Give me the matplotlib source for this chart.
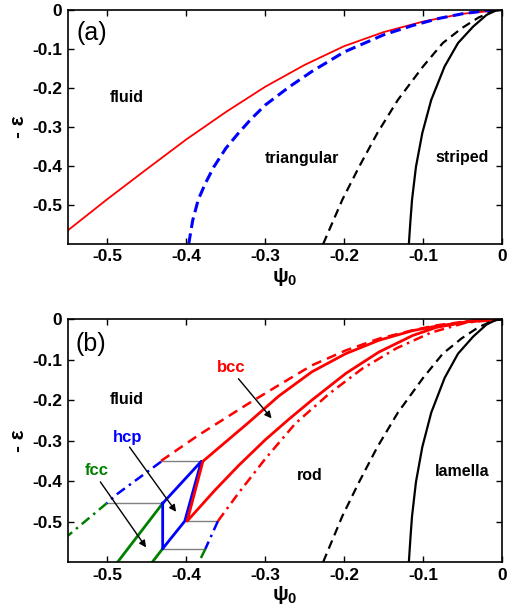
import numpy as np
import matplotlib
matplotlib.use("Agg")
import matplotlib.pyplot as plt

plt.rcParams['font.family'] = ['Liberation Sans', 'DejaVu Sans']
plt.rcParams['font.weight'] = 'bold'
plt.rcParams['axes.unicode_minus'] = False
plt.rcParams['mathtext.fontset'] = 'custom'
plt.rcParams['mathtext.rm'] = 'Liberation Sans:bold'
plt.rcParams['mathtext.it'] = 'Liberation Sans:bold'
plt.rcParams['mathtext.bf'] = 'Liberation Sans:bold'

# ---- panel (a) data ----
fluid_tri_x = [-0.55, -0.5, -0.45, -0.4, -0.35, -0.3, -0.25, -0.2, -0.15, -0.1, -0.05, 0]
fluid_tri_y = [-0.565, -0.485, -0.408, -0.332, -0.262, -0.197, -0.141, -0.093, -0.057, -0.030, -0.010, 0]

tri_x = [-0.397, -0.392, -0.385, -0.376, -0.365, -0.35, -0.334, -0.318, -0.3, -0.27,
         -0.241, -0.2, -0.15, -0.113, -0.08, -0.05, -0.02, 0]
tri_y = [-0.6, -0.54, -0.487, -0.445, -0.402, -0.355, -0.316, -0.28, -0.244, -0.198,
         -0.158, -0.108, -0.064, -0.040, -0.022, -0.010, -0.002, 0]

stripe_dash_x = [-0.2266, -0.2024, -0.181, -0.158, -0.132, -0.100, -0.075, -0.051, -0.030, -0.011, 0]
stripe_dash_y = [-0.6, -0.487, -0.402, -0.316, -0.231, -0.145, -0.085, -0.047, -0.020, -0.003, 0]

stripe_x = [-0.118, -0.116, -0.114, -0.109, -0.101, -0.0897, -0.0727, -0.0557, -0.0366, -0.0196, -0.008, 0]
stripe_y = [-0.6, -0.54, -0.487, -0.402, -0.316, -0.231, -0.145, -0.085, -0.043, -0.013, -0.002, 0]

# ---- panel (b) data ----
bcc_fluid_x = [-0.432, -0.385, -0.321, -0.283, -0.241, -0.198, -0.156, -0.113, -0.083, -0.04, 0]
bcc_fluid_y = [-0.35, -0.287, -0.208, -0.163, -0.114, -0.077, -0.048, -0.027, -0.015, -0.004, 0]

bcc_x = [0, -0.04, -0.083, -0.113, -0.156, -0.198, -0.241, -0.283, -0.321, -0.379,
         -0.399, -0.364, -0.334, -0.3, -0.27, -0.241, -0.198, -0.156, -0.113, -0.083, -0.04, 0]
bcc_y = [0, -0.005, -0.017, -0.028, -0.052, -0.085, -0.130, -0.19, -0.255, -0.351,
         -0.499, -0.423, -0.362, -0.298, -0.247, -0.2, -0.134, -0.081, -0.04, -0.02, -0.005, 0]

bcc_rod_x = [-0.36, -0.334, -0.3, -0.262, -0.219, -0.177, -0.134, -0.09, -0.045, 0]
bcc_rod_y = [-0.499, -0.43, -0.345, -0.258, -0.184, -0.122, -0.072, -0.033, -0.008, 0]

hcp_fluid_x = [-0.432, -0.487, -0.501]
hcp_fluid_y = [-0.352, -0.431, -0.455]
fcc_fluid_x = [-0.501, -0.55]
fcc_fluid_y = [-0.455, -0.535]
hcp_rod_x = [-0.36, -0.376]
hcp_rod_y = [-0.499, -0.568]
fcc_rod_x = [-0.376, -0.384]
fcc_rod_y = [-0.568, -0.6]

hcp_x = [-0.430, -0.381, -0.402, -0.430, -0.430]
hcp_y = [-0.455, -0.351, -0.499, -0.567, -0.455]
fcc1_x = [-0.430, -0.487]
fcc1_y = [-0.455, -0.6]
fcc2_x = [-0.430, -0.443]
fcc2_y = [-0.567, -0.6]

tie_y = [-0.351, -0.455, -0.499, -0.567]
tie_x0 = [-0.432, -0.501, -0.399, -0.430]
tie_x1 = [-0.379, -0.430, -0.36, -0.376]

xticks = [-0.5, -0.4, -0.3, -0.2, -0.1, 0]
xlabels = ['-0.5', '-0.4', '-0.3', '-0.2', '-0.1', '0']
yticks = [-0.5, -0.4, -0.3, -0.2, -0.1, 0]
ylabels = ['-0.5', '-0.4', '-0.3', '-0.2', '-0.1', '0']

fig = plt.figure(figsize=(5.21, 6.16), dpi=100)
ax1 = fig.add_axes([0.1305, 0.604, 0.833, 0.380])
ax2 = fig.add_axes([0.1305, 0.0877, 0.833, 0.394])


def style(ax):
    ax.set_xlim(-0.55, 0)
    ax.set_ylim(-0.6, 0)
    ax.set_xticks(xticks)
    ax.set_xticklabels(xlabels)
    ax.set_yticks(yticks)
    ax.set_yticklabels(ylabels)
    ax.tick_params(direction='in', top=True, right=True, labelsize=12.5, length=4, width=1, pad=4)
    for t in ax.get_xticklabels() + ax.get_yticklabels():
        t.set_fontweight('bold')
    for s in ax.spines.values():
        s.set_linewidth(1.2)
    ax.set_xlabel(r'$\mathrm{\psi_0}$', fontsize=15, labelpad=1)
    ax.set_ylabel('- ε', fontsize=15, fontweight='bold', labelpad=3)


# panel (a)
ax1.plot(fluid_tri_x, fluid_tri_y, color='red', lw=1.3)
ax1.plot(tri_x, tri_y, color='blue', lw=2.2, ls=(0, (3.5, 1.8)))
ax1.plot(stripe_dash_x, stripe_dash_y, color='black', lw=1.6, ls=(0, (4, 2.5)))
ax1.plot(stripe_x, stripe_y, color='black', lw=1.6)
style(ax1)
ax1.text(-0.52, -0.06, '(a)', fontsize=18, fontweight='normal', ha='center', va='center')
ax1.text(-0.475, -0.225, 'fluid', fontsize=11.5, ha='center', va='center')
ax1.text(-0.253, -0.382, 'triangular', fontsize=11.5, ha='center', va='center')
ax1.text(-0.050, -0.378, 'striped', fontsize=11.5, ha='center', va='center')

# panel (b)
for y, xa, xb in zip(tie_y, tie_x0, tie_x1):
    ax2.plot([xa, xb], [y, y], color='gray', lw=1.0)
ax2.plot(hcp_fluid_x, hcp_fluid_y, color='blue', lw=1.8, ls=(0, (4, 2, 1, 2)))
ax2.plot(fcc_fluid_x, fcc_fluid_y, color='green', lw=1.8, ls=(0, (4, 2, 1, 2)))
ax2.plot(hcp_rod_x, hcp_rod_y, color='blue', lw=1.8, ls=(0, (4, 2, 1, 2)))
ax2.plot(fcc_rod_x, fcc_rod_y, color='green', lw=1.8, ls=(0, (4, 2, 1, 2)))
ax2.plot(fcc1_x, fcc1_y, color='green', lw=2.0)
ax2.plot(fcc2_x, fcc2_y, color='green', lw=2.0)
ax2.plot(hcp_x, hcp_y, color='blue', lw=2.0)
ax2.plot(bcc_fluid_x, bcc_fluid_y, color='red', lw=1.8, ls=(0, (4, 2.5)))
ax2.plot(bcc_rod_x, bcc_rod_y, color='red', lw=1.8, ls=(0, (4, 2, 1, 2)))
ax2.plot(bcc_x, bcc_y, color='red', lw=2.0)
ax2.plot(stripe_dash_x, stripe_dash_y, color='black', lw=1.6, ls=(0, (4, 2.5)))
ax2.plot(stripe_x, stripe_y, color='black', lw=1.6)
style(ax2)
ax2.text(-0.521, -0.06, '(b)', fontsize=18, fontweight='normal', ha='center', va='center')
ax2.text(-0.475, -0.198, 'fluid', fontsize=11.5, ha='center', va='center')
ax2.text(-0.243, -0.385, 'rod', fontsize=11.5, ha='center', va='center')
ax2.text(-0.050, -0.377, 'lamella', fontsize=11.5, ha='center', va='center')
ax2.text(-0.343, -0.119, 'bcc', fontsize=12, color='red', ha='center', va='center')
ax2.text(-0.474, -0.293, 'hcp', fontsize=12, color='blue', ha='center', va='center')
ax2.text(-0.513, -0.373, 'fcc', fontsize=12, color='green', ha='center', va='center')
arrow = dict(arrowstyle='-|>', color='black', lw=1.0, mutation_scale=10, shrinkA=0, shrinkB=0)
ax2.annotate('', xy=(-0.292, -0.245), xytext=(-0.334, -0.147), arrowprops=arrow)
ax2.annotate('', xy=(-0.413, -0.476), xytext=(-0.472, -0.316), arrowprops=arrow)
ax2.annotate('', xy=(-0.451, -0.564), xytext=(-0.509, -0.402), arrowprops=arrow)

fig.savefig('out.png', dpi=100)
